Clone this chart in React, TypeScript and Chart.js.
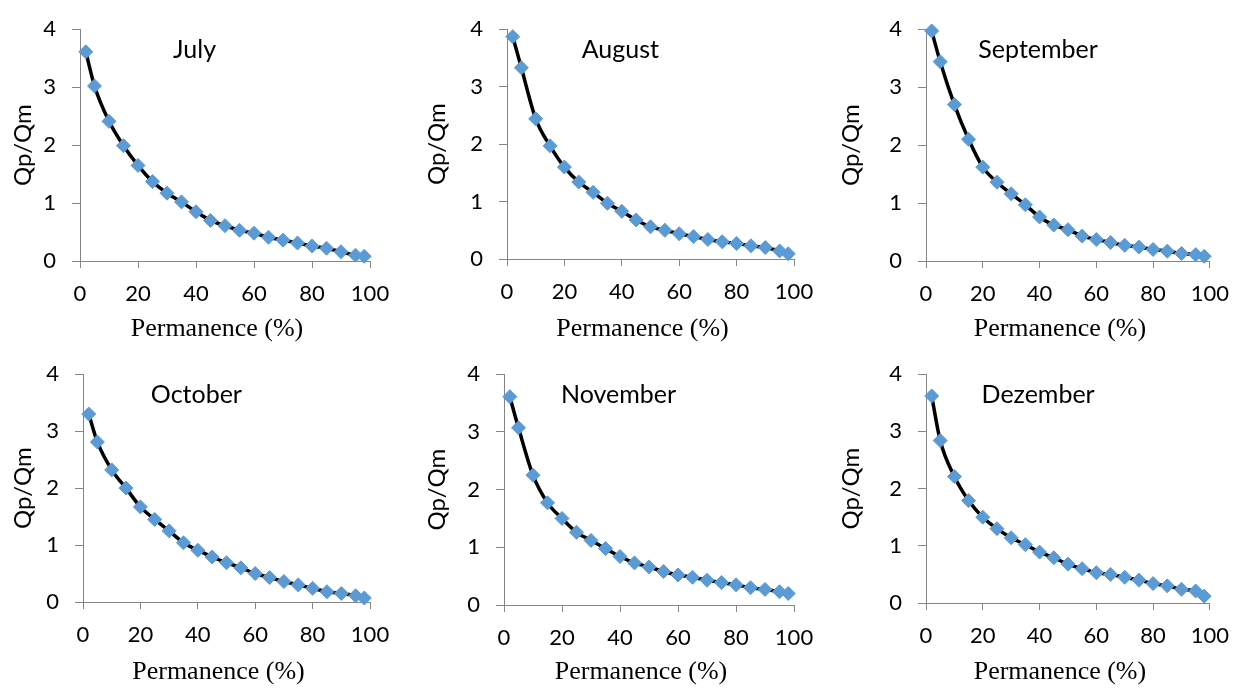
import React, { useEffect, useRef } from "react";
import { Chart, registerables } from "chart.js";

Chart.register(...registerables);

// ---- data ----
const PERMANENCE = [2, 5, 10, 15, 20, 25, 30, 35, 40, 45, 50, 55, 60, 65, 70, 75, 80, 85, 90, 95, 98];
const JULY = [3.61, 3.02, 2.41, 1.99, 1.65, 1.37, 1.17, 1.02, 0.85, 0.70, 0.61, 0.53, 0.48, 0.41, 0.36, 0.31, 0.26, 0.22, 0.16, 0.10, 0.08];
const AUGUST = [3.87, 3.33, 2.44, 1.97, 1.60, 1.34, 1.16, 0.97, 0.83, 0.68, 0.56, 0.50, 0.44, 0.39, 0.34, 0.30, 0.27, 0.23, 0.20, 0.14, 0.09];
const SEPTEMBER = [3.97, 3.44, 2.70, 2.10, 1.62, 1.36, 1.16, 0.97, 0.76, 0.62, 0.54, 0.43, 0.37, 0.32, 0.27, 0.24, 0.20, 0.17, 0.13, 0.11, 0.08];
const OCTOBER = [3.30, 2.81, 2.32, 2.00, 1.67, 1.45, 1.25, 1.04, 0.91, 0.79, 0.69, 0.60, 0.50, 0.43, 0.36, 0.30, 0.24, 0.18, 0.15, 0.11, 0.07];
const NOVEMBER = [3.61, 3.07, 2.25, 1.77, 1.50, 1.26, 1.12, 0.98, 0.84, 0.73, 0.66, 0.58, 0.52, 0.48, 0.43, 0.39, 0.35, 0.30, 0.27, 0.23, 0.20];
const DEZEMBER = [3.62, 2.84, 2.21, 1.79, 1.50, 1.30, 1.14, 1.02, 0.89, 0.79, 0.68, 0.60, 0.53, 0.50, 0.45, 0.40, 0.34, 0.30, 0.24, 0.21, 0.12];

const MONTH_NAMES = ["July", "August", "September", "October", "November", "Dezember"];
const SERIES = [JULY, AUGUST, SEPTEMBER, OCTOBER, NOVEMBER, DEZEMBER];

const X_TITLE = "Permanence (%)";
const Y_TITLE = "Qp/Qm";
const X_MIN = 0, X_MAX = 100, X_STEP = 20;
const Y_MIN = 0, Y_MAX = 4, Y_STEP = 1;

// ---- layout (pixel geometry of each panel) ----
const CELLS = [
  { left: 0, top: 0, w: 414, h: 345, plot: { l: 80, t: 24, r: 370, b: 261 } },
  { left: 414, top: 0, w: 414, h: 345, plot: { l: 507, t: 24, r: 794, b: 259 } },
  { left: 828, top: 0, w: 414, h: 345, plot: { l: 926, t: 24, r: 1218, b: 261 } },
  { left: 0, top: 345, w: 414, h: 344, plot: { l: 83, t: 367, r: 370, b: 602 } },
  { left: 414, top: 345, w: 414, h: 344, plot: { l: 504, t: 368, r: 794, b: 605 } },
  { left: 828, top: 345, w: 414, h: 344, plot: { l: 926, t: 368, r: 1218, b: 603 } },
];

const AXIS_COLOR = "#868686";
const MARKER_COLOR = "#5B9BD5";
const SANS = "Lato, 'Open Sans', sans-serif";
const SERIF = "'Liberation Serif', 'DejaVu Serif', serif";

// month label inside the plot area
const monthLabelPlugin = {
  id: "monthLabel",
  afterDatasetsDraw(chart: any, _args: any, opts: any) {
    const { ctx, chartArea } = chart;
    ctx.save();
    ctx.font = `25px ${SANS}`;
    ctx.fillStyle = "#000";
    ctx.textAlign = "center";
    ctx.textBaseline = "alphabetic";
    const x = chartArea.left + 0.395 * (chartArea.right - chartArea.left);
    const y = chartArea.top + 29;
    ctx.fillText(opts.text, x, y);
    ctx.restore();
  },
};

// x-axis title, centred slightly left of the plot centre as in the reference
const xTitlePlugin = {
  id: "xTitle",
  afterDraw(chart: any, _args: any, opts: any) {
    const { ctx, chartArea, height } = chart;
    ctx.save();
    ctx.font = `26px ${SERIF}`;
    ctx.fillStyle = "#000";
    ctx.textAlign = "center";
    ctx.textBaseline = "middle";
    const x = (chartArea.left + chartArea.right) / 2 - 8;
    const y = height - opts.offset;
    ctx.fillText(opts.text, x, y);
    ctx.restore();
  },
};

function Panel({ index }: { index: number }) {
  const ref = useRef<HTMLCanvasElement | null>(null);
  const cell = CELLS[index];
  useEffect(() => {
    if (!ref.current) return;
    const p = cell.plot;
    const yWidth = p.l - cell.left;
    const xHeight = cell.top + cell.h - p.b;
    const data = PERMANENCE.map((x, i) => ({ x, y: SERIES[index][i] }));
    const chart = new Chart(ref.current, {
      type: "scatter",
      data: {
        datasets: [
          {
            label: MONTH_NAMES[index],
            data,
            showLine: true,
            borderColor: "#000",
            borderWidth: 3.5,
            cubicInterpolationMode: "monotone",
            pointStyle: "rectRot",
            pointRadius: 7,
            pointBackgroundColor: MARKER_COLOR,
            pointBorderColor: MARKER_COLOR,
            pointBorderWidth: 1,
            clip: false,
          } as any,
        ],
      },
      options: {
        responsive: false,
        maintainAspectRatio: false,
        animation: false,
        layout: {
          padding: { top: p.t - cell.top, right: cell.left + cell.w - p.r, left: 0, bottom: 0 },
        },
        plugins: {
          legend: { display: false },
          tooltip: { enabled: false },
          monthLabel: { text: MONTH_NAMES[index] },
          xTitle: { text: X_TITLE, offset: index < 3 ? 15.6 : 16.6 },
        } as any,
        scales: {
          x: {
            type: "linear",
            min: X_MIN,
            max: X_MAX,
            ticks: { stepSize: X_STEP, color: "#000", font: { family: SANS, size: 22 }, padding: 13, maxRotation: 0 },
            grid: { display: true, drawOnChartArea: false, drawTicks: true, tickLength: 7, color: AXIS_COLOR },
            border: { display: true, color: AXIS_COLOR, width: 1 },
            title: { display: false },
            afterFit: (s: any) => {
              s.height = xHeight;
            },
          },
          y: {
            type: "linear",
            min: Y_MIN,
            max: Y_MAX,
            ticks: { stepSize: Y_STEP, color: "#000", font: { family: SANS, size: 22 }, padding: 16 },
            grid: { display: true, drawOnChartArea: false, drawTicks: true, tickLength: 8, color: AXIS_COLOR },
            border: { display: true, color: AXIS_COLOR, width: 1 },
            title: {
              display: true,
              text: Y_TITLE,
              color: "#000",
              font: { family: SANS, size: 24 },
              padding: { top: 9, bottom: 0 },
            },
            afterFit: (s: any) => {
              s.width = yWidth;
            },
          },
        },
      } as any,
      plugins: [monthLabelPlugin, xTitlePlugin],
    });
    return () => chart.destroy();
  }, [index]);
  return (
    <canvas
      ref={ref}
      width={cell.w}
      height={cell.h}
      style={{ position: "absolute", left: cell.left, top: cell.top, width: cell.w, height: cell.h }}
    />
  );
}

export default function App() {
  return (
    <div style={{ position: "absolute", left: 0, top: 0, width: 1242, height: 689, background: "#fff", overflow: "hidden" }}>
      {CELLS.map((_, i) => (
        <Panel key={i} index={i} />
      ))}
    </div>
  );
}
